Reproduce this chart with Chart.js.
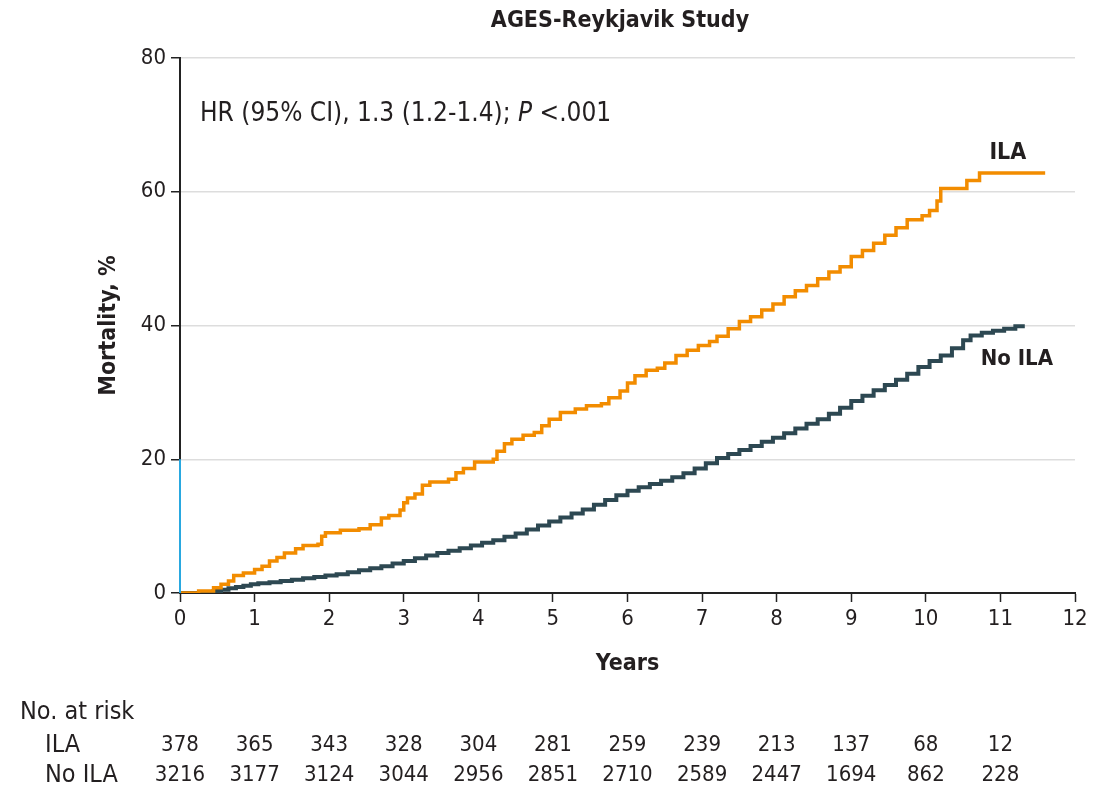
<!DOCTYPE html>
<html>
<head>
<meta charset="utf-8">
<script src="https://cdn.jsdelivr.net/npm/chart.js@4/dist/chart.umd.min.js"></script>
<style>
  html, body { margin: 0; padding: 0; background: #fff; }
  #wrap { width: 1104px; height: 790px; position: relative; }
</style>
</head>
<body>
<div id="wrap"><canvas id="myChart"></canvas></div>
<script>
// Kaplan-Meier style cumulative mortality
const ilaTimes = [0, 0.25, 0.45, 0.55, 0.65, 0.72, 0.85, 1.0, 1.1, 1.2, 1.3, 1.4, 1.55, 1.65, 1.85, 1.9, 1.95,
    2.15, 2.4, 2.55, 2.7, 2.8, 2.95, 3.0, 3.05, 3.15, 3.25, 3.35, 3.6, 3.7, 3.8, 3.95, 4.2, 4.25, 4.35, 4.45,
    4.6, 4.75, 4.85, 4.95, 5.1, 5.3, 5.45, 5.65, 5.75, 5.9, 6.0, 6.1, 6.25, 6.4, 6.5, 6.65, 6.8, 6.95, 7.1,
    7.2, 7.35, 7.5, 7.65, 7.8, 7.95, 8.1, 8.25, 8.4, 8.55, 8.7, 8.85, 9.0, 9.15, 9.3, 9.45, 9.6, 9.75, 9.95,
    10.05, 10.15, 10.2, 10.55, 10.72, 11.6];
const ilaMortality = [0, 0.3, 0.8, 1.3, 1.8, 2.6, 3.0, 3.5, 4.0, 4.8, 5.3, 6.0, 6.6, 7.1, 7.3, 8.5, 9.0,
    9.4, 9.6, 10.2, 11.2, 11.6, 12.4, 13.5, 14.2, 14.8, 16.1, 16.6, 17.0, 18.0, 18.6, 19.6, 20.0, 21.2, 22.3, 23.0,
    23.6, 24.0, 25.0, 26.0, 27.0, 27.5, 28.0, 28.3, 29.2, 30.2, 31.4, 32.5, 33.3, 33.6, 34.4, 35.5, 36.3, 37.0, 37.6,
    38.4, 39.5, 40.6, 41.3, 42.3, 43.2, 44.3, 45.2, 46.0, 47.0, 48.0, 48.8, 50.3, 51.2, 52.3, 53.5, 54.6, 55.8, 56.4,
    57.2, 58.6, 60.5, 61.7, 62.8, 62.8];

const noIlaTimes = [0, 0.35, 0.45, 0.55, 0.65, 0.75, 0.85, 0.95, 1.05, 1.2, 1.35, 1.5, 1.65, 1.8, 1.95,
    2.1, 2.25, 2.4, 2.55, 2.7, 2.85, 3.0, 3.15, 3.3, 3.45, 3.6, 3.75, 3.9, 4.05, 4.2, 4.35, 4.5, 4.65, 4.8,
    4.95, 5.1, 5.25, 5.4, 5.55, 5.7, 5.85, 6.0, 6.15, 6.3, 6.45, 6.6, 6.75, 6.9, 7.05, 7.2, 7.35, 7.5, 7.65,
    7.8, 7.95, 8.1, 8.25, 8.4, 8.55, 8.7, 8.85, 9.0, 9.15, 9.3, 9.45, 9.6, 9.75, 9.9, 10.05, 10.2, 10.35,
    10.5, 10.6, 10.75, 10.9, 11.05, 11.2, 11.3];
const noIlaMortality = [0, 0.1, 0.3, 0.5, 0.7, 0.9, 1.1, 1.3, 1.45, 1.6, 1.8, 2.0, 2.2, 2.4, 2.6,
    2.8, 3.1, 3.4, 3.7, 4.0, 4.4, 4.8, 5.2, 5.6, 6.0, 6.3, 6.7, 7.1, 7.5, 7.9, 8.4, 8.9, 9.5, 10.1,
    10.7, 11.3, 11.9, 12.5, 13.2, 13.9, 14.6, 15.3, 15.8, 16.3, 16.8, 17.3, 17.9, 18.6, 19.4, 20.2, 20.8, 21.4, 22.0,
    22.6, 23.2, 23.9, 24.6, 25.3, 26.0, 26.8, 27.7, 28.7, 29.5, 30.3, 31.1, 31.9, 32.8, 33.8, 34.7, 35.5, 36.6,
    37.8, 38.5, 38.9, 39.2, 39.5, 39.9, 40.2];

const riskYears = [0, 1, 2, 3, 4, 5, 6, 7, 8, 9, 10, 11];
const riskIla = [378, 365, 343, 328, 304, 281, 259, 239, 213, 137, 68, 12];
const riskNoIla = [3216, 3177, 3124, 3044, 2956, 2851, 2710, 2589, 2447, 1694, 862, 228];

const FONT = '"Liberation Sans Narrow", "DejaVu Sans Condensed", "Roboto Condensed", sans-serif';
const TXT = '#231f20';
Chart.defaults.font.family = FONT;
Chart.defaults.color = TXT;

const toXY = (ts, vs) => ts.map((t, i) => ({ x: t, y: vs[i] }));

const extras = {
    id: 'extras',
    afterDraw(chart) {
        const ctx = chart.ctx;
        const x = chart.scales.x, y = chart.scales.y;
        ctx.save();
        // blue segment of the y axis (0 to 20)
        ctx.strokeStyle = '#29a8e0';
        ctx.lineWidth = 2;
        ctx.beginPath();
        ctx.moveTo(x.left, y.getPixelForValue(0));
        ctx.lineTo(x.left, y.getPixelForValue(20));
        ctx.stroke();

        ctx.fillStyle = TXT;
        ctx.textBaseline = 'middle';
        // title
        ctx.textAlign = 'center';
        ctx.font = 'bold 23px ' + FONT;
        ctx.fillText('AGES-Reykjavik Study', 620, 21);

        // HR annotation
        ctx.textAlign = 'left';
        ctx.font = '26px ' + FONT;
        let s1 = 'HR (95% CI), 1.3 (1.2-1.4); ';
        let px = 200;
        ctx.fillText(s1, px, 114);
        px += ctx.measureText(s1).width;
        ctx.font = 'italic 26px ' + FONT;
        ctx.fillText('P', px, 114);
        px += ctx.measureText('P').width;
        ctx.font = '26px ' + FONT;
        ctx.fillText(' <.001', px, 114);

        // curve labels
        ctx.textAlign = 'center';
        ctx.font = '600 23px ' + FONT;
        ctx.fillText('ILA', x.getPixelForValue(11.1), y.getPixelForValue(65.8));
        ctx.font = '600 22px ' + FONT;
        ctx.fillText('No ILA', x.getPixelForValue(11.22), y.getPixelForValue(35.0));

        // number at risk table
        ctx.font = '25px ' + FONT;
        ctx.textAlign = 'left';
        ctx.fillText('No. at risk', 20, 712);
        ctx.fillText('ILA', 45, 745);
        ctx.fillText('No ILA', 45, 775);
        ctx.font = '22px ' + FONT;
        ctx.textAlign = 'center';
        riskYears.forEach((yr, i) => {
            const cx = x.getPixelForValue(yr);
            ctx.fillText(String(riskIla[i]), cx, 745);
            ctx.fillText(String(riskNoIla[i]), cx, 775);
        });
        ctx.restore();
    }
};

new Chart(
    document.getElementById('myChart').getContext('2d'), {
        type: 'line',
        data: {
            datasets: [{
                label: 'ILA',
                data: toXY(ilaTimes, ilaMortality),
                borderColor: '#f28c00',
                borderWidth: 3.5,
                stepped: true,
                pointRadius: 0,
                fill: false
            }, {
                label: 'No ILA',
                data: toXY(noIlaTimes, noIlaMortality),
                borderColor: '#2d4852',
                borderWidth: 4,
                stepped: true,
                pointRadius: 0,
                fill: false
            }]
        },
        options: {
            responsive: true,
            maintainAspectRatio: false,
            animation: false,
            layout: {
                padding: { top: 58, right: 29, bottom: 108, left: 91 }
            },
            plugins: {
                legend: { display: false },
                title: { display: false },
                tooltip: { enabled: false }
            },
            scales: {
                x: {
                    type: 'linear',
                    min: 0,
                    max: 12,
                    ticks: { stepSize: 1, padding: 4, font: { size: 22 }, color: TXT },
                    grid: { drawOnChartArea: false, tickLength: 9, tickColor: '#222', tickWidth: 1.5 },
                    border: { color: '#222', width: 2 },
                    title: { display: true, text: 'Years', font: { size: 23, weight: '600' }, color: TXT, padding: { top: 14 } },
                    afterFit(scale) { scale.height = 89; }
                },
                y: {
                    min: 0,
                    max: 80,
                    ticks: { stepSize: 20, padding: 5, font: { size: 22 }, color: TXT },
                    grid: { color: '#dddddd', lineWidth: 1.5, tickLength: 9, tickColor: '#222', tickWidth: 1.5 },
                    border: { color: '#222', width: 2 },
                    title: { display: true, text: 'Mortality, %', font: { size: 23, weight: '600' }, color: TXT },
                    afterFit(scale) { scale.width = 89; }
                }
            }
        },
        plugins: [extras]
    }
);
</script>
</body>
</html>
